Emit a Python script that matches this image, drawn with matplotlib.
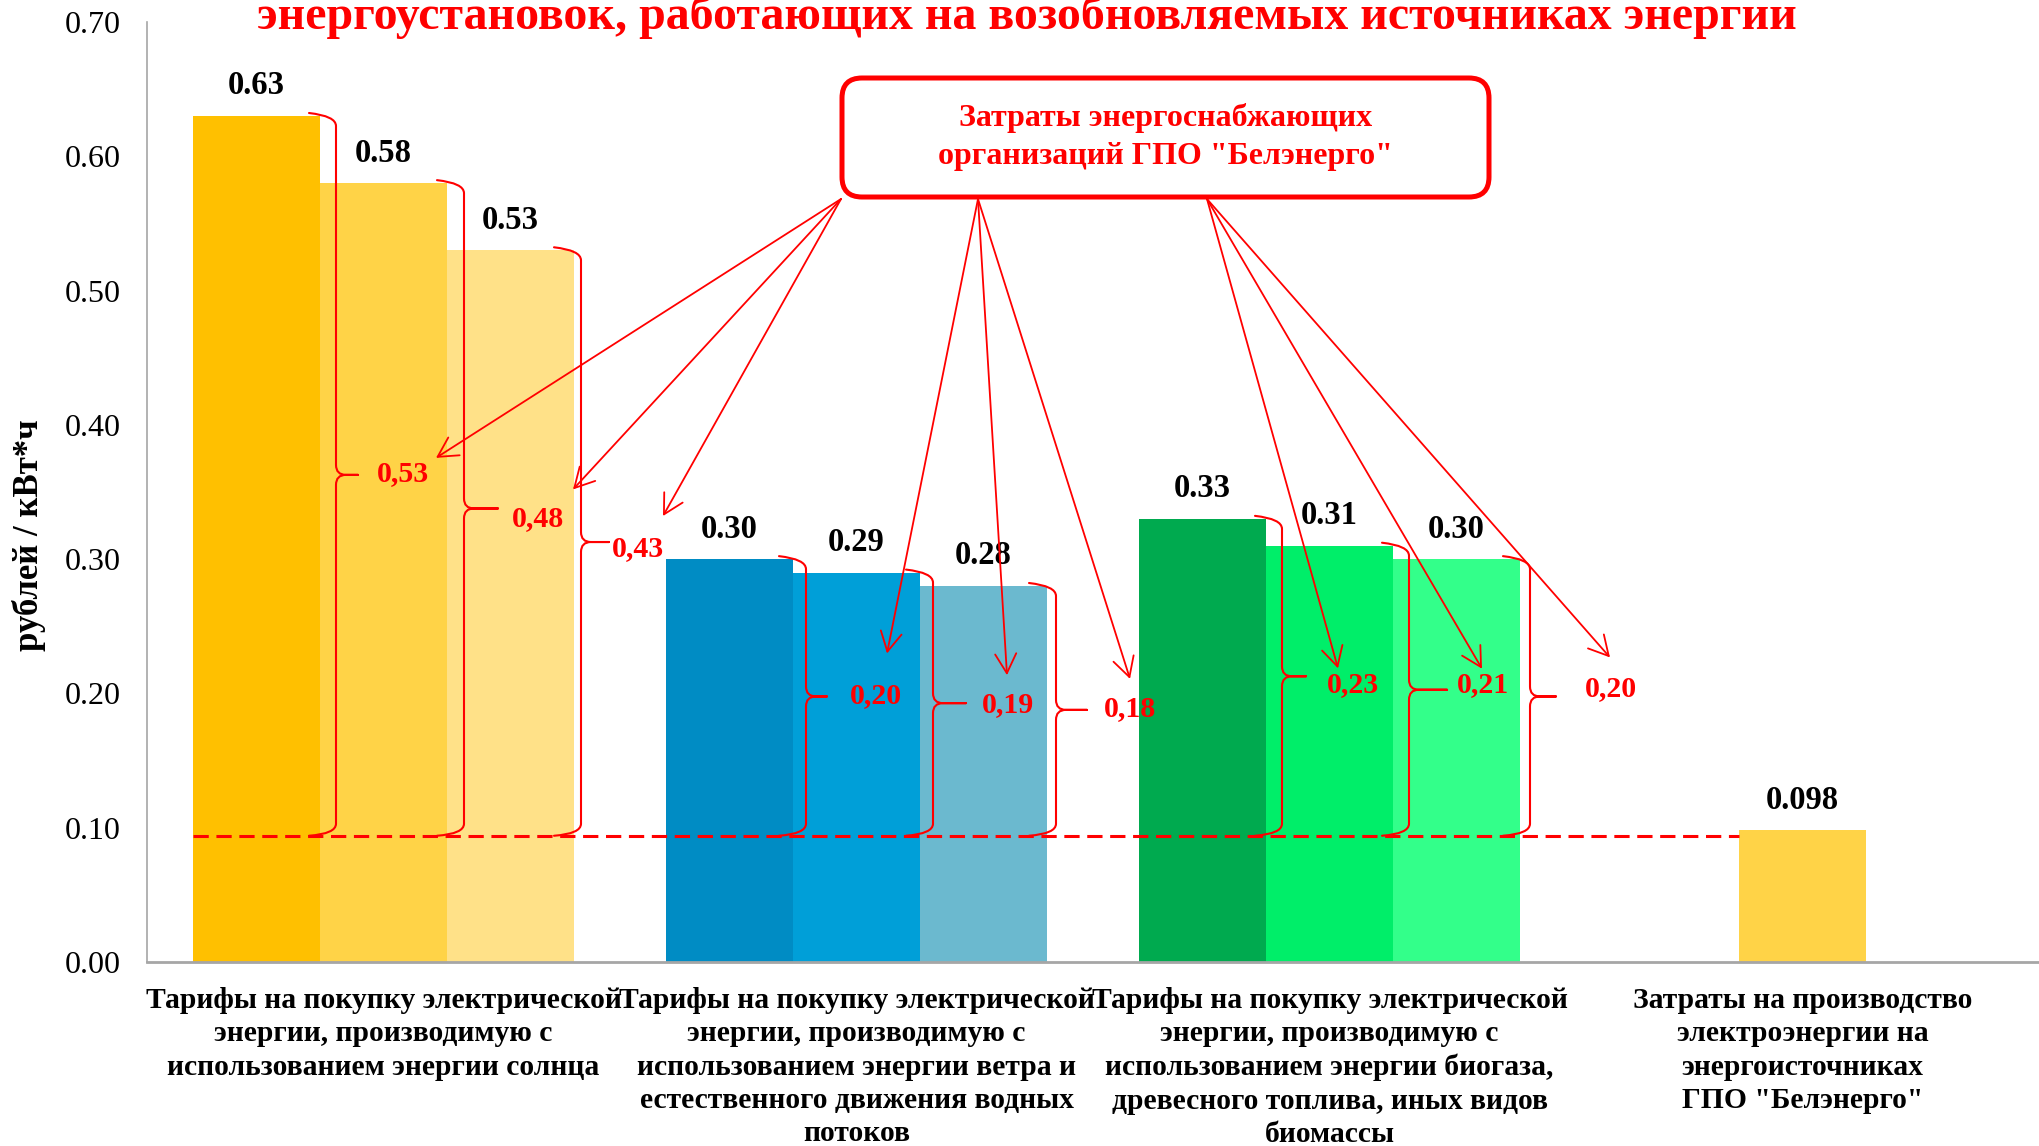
import matplotlib
matplotlib.use("Agg")
import matplotlib.pyplot as plt
from matplotlib.patches import FancyBboxPatch, PathPatch
from matplotlib.path import Path
from matplotlib.transforms import IdentityTransform

plt.rcParams['font.family'] = ['Liberation Serif', 'DejaVu Serif']

# ---------------- data ----------------
categories = [
    "Тарифы на покупку электрической\nэнергии, производимую с\nиспользованием энергии солнца",
    "Тарифы на покупку электрической\nэнергии, производимую с\nиспользованием энергии ветра и\nестественного движения водных\nпотоков",
    "Тарифы на покупку электрической\nэнергии, производимую с\nиспользованием энергии биогаза,\nдревесного топлива, иных видов\nбиомассы",
    "Затраты на производство\nэлектроэнергии на\nэнергоисточниках\nГПО \"Белэнерго\"",
]
solar_tariffs = [0.63, 0.58, 0.53]
wind_hydro_tariffs = [0.30, 0.29, 0.28]
biomass_tariffs = [0.33, 0.31, 0.30]
belenergo_cost = 0.098
solar_supplier_costs = [0.53, 0.48, 0.43]
wind_hydro_supplier_costs = [0.20, 0.19, 0.18]
biomass_supplier_costs = [0.23, 0.21, 0.20]
reference_level = 0.094
y_ticks = [0.00, 0.10, 0.20, 0.30, 0.40, 0.50, 0.60, 0.70]
title_text = "энергоустановок, работающих на возобновляемых источниках энергии"
box_text = "Затраты энергоснабжающих\nорганизаций ГПО \"Белэнерго\""
y_label = "рублей / кВт*ч"

group_values = [solar_tariffs, wind_hydro_tariffs, biomass_tariffs]
group_costs = [solar_supplier_costs, wind_hydro_supplier_costs, biomass_supplier_costs]
group_colors = [
    ["#FFC000", "#FFD347", "#FFE188"],
    ["#008CC4", "#009FD8", "#6BB9CF"],
    ["#00AA4F", "#00EE69", "#33FF8A"],
]
single_color = "#FFD347"
RED = "#FF0000"

# ---------------- figure ----------------
W, H = 2039, 1146
fig = plt.figure(figsize=(W / 100, H / 100), dpi=100)
ax_left, ax_bottom_px, ax_top_px = 147, 962, 22
ax = fig.add_axes([ax_left / W, (H - ax_bottom_px) / H, (W - ax_left) / W,
                   (ax_bottom_px - ax_top_px) / H])
ax.set_xlim(-0.5, 3.5)
ax.set_ylim(0, 0.7)
sx = (W - ax_left) / 4.0          # px per x unit
sy = (ax_bottom_px - ax_top_px) / 0.7   # px per y unit

w = 0.2685
for g, vals in enumerate(group_values):
    for j, v in enumerate(vals):
        x = g + (j - 1) * w
        ax.bar(x, v, width=w, color=group_colors[g][j], zorder=2, linewidth=0)
        ax.annotate(f"{v:.2f}", (x, v), xytext=(0, 21.6), textcoords='offset points',
                    ha='center', va='center', fontsize=23.5, fontweight='bold', zorder=5)
ax.bar(3, belenergo_cost, width=w, color=single_color, zorder=2, linewidth=0)
ax.annotate(f"{belenergo_cost:.3f}", (3, belenergo_cost), xytext=(0, 21.6),
            textcoords='offset points', ha='center', va='center', fontsize=23.5,
            fontweight='bold', zorder=5)

# dashed reference line
ax.plot([0 - 1.5 * w, 3 - 0.5 * w], [reference_level, reference_level], color=RED,
        lw=2.2, dashes=(5, 2.5), zorder=4)

# axes styling
for s in ['top', 'right']:
    ax.spines[s].set_visible(False)
ax.spines['left'].set_color('#A6A6A6')
ax.spines['left'].set_linewidth(1.2)
ax.spines['bottom'].set_color('#A6A6A6')
ax.spines['bottom'].set_linewidth(2)
ax.set_yticks(y_ticks)
ax.set_yticklabels([f"{t:.2f}" for t in y_ticks], fontsize=23)
ax.tick_params(axis='y', length=0, pad=19)
ax.set_xticks(range(len(categories)))
ax.set_xticklabels(categories, fontsize=21.3, fontweight='bold', linespacing=1.3)
ax.tick_params(axis='x', length=0, pad=18)

# box
box_l, box_t, box_r, box_b = 842, 78, 1489, 197
box = FancyBboxPatch((box_l, H - box_b), box_r - box_l, box_b - box_t,
                     boxstyle="round,pad=0,rounding_size=20", transform=IdentityTransform(),
                     facecolor='white', edgecolor=RED, linewidth=3.6, zorder=6)
fig.patches.append(box)
fig.text((box_l + box_r) / 2 / W, 1 - 137 / H, box_text, ha='center', va='center',
         fontsize=23, fontweight='bold', color=RED, linespacing=1.37, zorder=7)

origins_px = [(841, 199), (978, 199), (1207, 199)]
# label centre offsets from brace line (px right, px down) and arrow tip offsets from label centre
label_offsets = [
    [(67, -1), (74, 10), (57, 7)],
    [(70, -1), (75, 1), (74, -1)],
    [(71, 8), (74, -5), (81, -8)],
]
tip_offsets = [
    [(33, -16), (35, -29), (25, -33)],
    [(11, -42), (-1, -29), (0, -30)],
    [(-15, -16), (-1, -16), (-1, -31)],
]
line_offsets = [
    [16, 17, 7],
    [13, 13, 9],
    [16, 16, 10],
]
tip_lengths = [
    [22, 34, 28],
    [21, 33, 31],
    [24, 38, 26],
]


def brace(x0, yt, yb, tip=28, hook=27, r=10):
    ym = (yt + yb) / 2
    rx, ry = r / sx, r / sy
    hx, tx = hook / sx, tip / sx
    verts = [
        (x0 - hx, yt + 3 / sy), (x0, yt), (x0, yt - ry),
        (x0, ym + ry),
        (x0, ym), (x0 + rx, ym),
        (x0 + tx, ym),
        (x0 + tx, ym), (x0 + rx, ym),
        (x0, ym), (x0, ym - ry),
        (x0, yb + ry),
        (x0, yb), (x0 - hx, yb - 2 / sy),
    ]
    codes = [Path.MOVETO, Path.CURVE3, Path.CURVE3, Path.LINETO, Path.CURVE3, Path.CURVE3,
             Path.LINETO, Path.MOVETO, Path.LINETO, Path.CURVE3, Path.CURVE3, Path.LINETO,
             Path.CURVE3, Path.CURVE3]
    ax.add_patch(PathPatch(Path(verts, codes), fill=False, edgecolor=RED, lw=1.5,
                           zorder=5, capstyle='round'))
    return ym


bottom_level = reference_level + 0.0015
for g, vals in enumerate(group_values):
    for j, v in enumerate(vals):
        right = g + (j - 1) * w + w / 2
        x0 = right + line_offsets[g][j] / sx
        ym = brace(x0, v, bottom_level, tip=tip_lengths[g][j])
        lx, ly = label_offsets[g][j]
        cx = x0 + lx / sx
        cy = ym - ly / sy
        ax.text(cx, cy, f"{group_costs[g][j]:.2f}".replace('.', ','), ha='center',
                va='center', fontsize=21.5, fontweight='bold', color=RED, zorder=6)
        dx, dy = tip_offsets[g][j]
        tip = (cx + dx / sx, cy - dy / sy)
        ox, oy = origins_px[g]
        ax.annotate('', xy=tip, xycoords='data', xytext=(ox, H - oy),
                    textcoords='figure pixels',
                    arrowprops=dict(arrowstyle='->,head_length=0.7,head_width=0.38',
                                    color=RED, lw=1.3, shrinkA=0, shrinkB=0,
                                    mutation_scale=20),
                    zorder=6)

fig.text(1026.5 / W, 1 - 29 / H, title_text, ha='center', va='baseline', fontsize=34.5,
         fontweight='bold', color=RED)
fig.text(29 / W, 1 - 535 / H, y_label, rotation=90, ha='center', va='center', fontsize=25,
         fontweight='bold')

fig.savefig("out.png", dpi=100)
